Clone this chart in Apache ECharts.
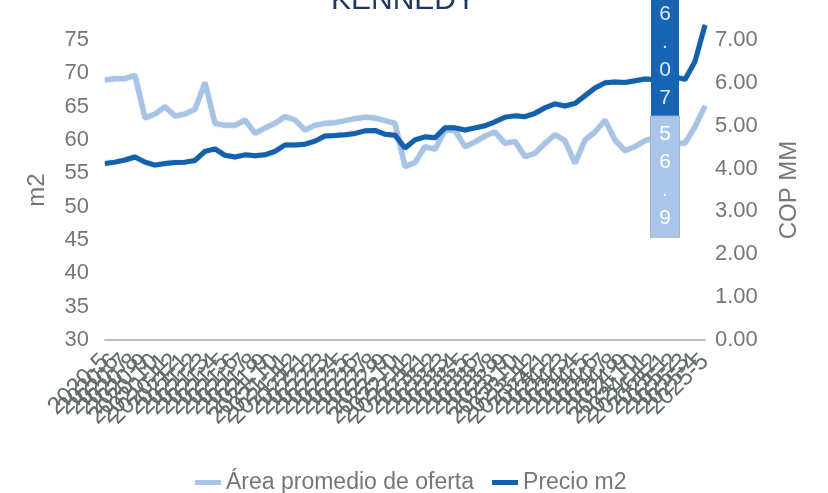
<!DOCTYPE html>
<html>
<head>
<meta charset="utf-8">
<script src="https://cdn.jsdelivr.net/npm/echarts@6/dist/echarts.min.js"></script>
<style>
  html, body { margin: 0; padding: 0; background: #ffffff; }
  #chart { width: 828px; height: 493px; }
</style>
</head>
<body>
<div id="chart"></div>
<script>
// Monthly periods on the category axis
const months = [
  '2020-5','2020-6','2020-7','2020-8','2020-9','2020-10','2020-11','2020-12',
  '2021-1','2021-2','2021-3','2021-4','2021-5','2021-6','2021-7','2021-8','2021-9','2021-10','2021-11','2021-12',
  '2022-1','2022-2','2022-3','2022-4','2022-5','2022-6','2022-7','2022-8','2022-9','2022-10','2022-11','2022-12',
  '2023-1','2023-2','2023-3','2023-4','2023-5','2023-6','2023-7','2023-8','2023-9','2023-10','2023-11','2023-12',
  '2024-1','2024-2','2024-3','2024-4','2024-5','2024-6','2024-7','2024-8','2024-9','2024-10','2024-11','2024-12',
  '2025-1','2025-2','2025-3','2025-4','2025-5'
];

// Average offered area (m2), left axis
const areaOferta = [
  69.0, 69.2, 69.2, 69.7, 63.3, 63.9, 65.0, 63.6, 63.9, 64.6,
  68.6, 62.5, 62.2, 62.2, 63.0, 61.0, 61.8, 62.5, 63.5, 63.0,
  61.5, 62.2, 62.5, 62.6, 62.9, 63.2, 63.4, 63.3, 62.9, 62.5,
  56.0, 56.6, 59.0, 58.6, 61.5, 61.4, 59.0, 59.7, 60.6, 61.2,
  59.5, 59.8, 57.5, 58.0, 59.5, 60.8, 59.9, 56.5, 60.0, 61.2,
  63.0, 60.0, 58.4, 59.0, 59.9, 60.3, 56.9, 59.5, 59.5, 62.0,
  65.1
];

// Price per m2 (COP millions), right axis
const precioM2 = [
  4.12, 4.15, 4.20, 4.27, 4.15, 4.08, 4.12, 4.14, 4.15, 4.19,
  4.40, 4.46, 4.31, 4.27, 4.32, 4.30, 4.32, 4.40, 4.55, 4.55,
  4.57, 4.64, 4.76, 4.77, 4.79, 4.82, 4.88, 4.89, 4.80, 4.78,
  4.48, 4.67, 4.74, 4.72, 4.95, 4.95, 4.90, 4.95, 5.00, 5.09,
  5.20, 5.23, 5.21, 5.29, 5.42, 5.51, 5.46, 5.52, 5.70, 5.88,
  6.00, 6.02, 6.01, 6.05, 6.09, 6.08, 6.07, 6.14, 6.08, 6.50,
  7.35
];

// Axis ranges
const areaAxis = { min: 30, max: 75, interval: 5 };
const precioAxis = { min: 0, max: 7, interval: 1 };

// Point whose values are printed
const labelIndex = 56;

const FONT = '"Liberation Sans", Arial, sans-serif';
const GRAY = '#767676';
const LIGHT = '#a6c3e8';
const DARK = '#1261ae';

// Stack each character of a value on its own line
const stacked = p => String(p.value).split('').join('\n');

function withLabel(values, labelStyle) {
  return values.map((v, i) => i === labelIndex
    ? { value: v, label: Object.assign({ show: true, formatter: stacked }, labelStyle) }
    : v);
}

const chart = echarts.init(document.getElementById('chart'), null, { renderer: 'canvas' });

chart.setOption({
  animation: false,
  backgroundColor: '#ffffff',
  textStyle: { fontFamily: FONT },
  title: {
    text: 'KENNEDY',
    left: 326,
    top: -19,
    textStyle: { fontFamily: FONT, fontSize: 30, fontWeight: 'normal', color: '#1f3763' }
  },
  legend: {
    left: 190,
    top: 466,
    icon: 'rect',
    itemWidth: 26,
    itemHeight: 5,
    itemGap: 18,
    textStyle: { fontFamily: FONT, fontSize: 23, color: GRAY },
    data: ['Área promedio de oferta', 'Precio m2']
  },
  grid: { left: 105, right: 123, top: 40, bottom: 153, containLabel: false },
  xAxis: {
    type: 'category',
    data: months,
    boundaryGap: false,
    axisLine: { lineStyle: { color: '#bfbfbf', width: 2 } },
    axisTick: { show: false },
    axisLabel: {
      interval: 0,
      rotate: 45,
      margin: 18,
      fontFamily: FONT,
      fontSize: 24,
      color: '#636d67',
      hideOverlap: false
    }
  },
  yAxis: [
    {
      type: 'value',
      min: areaAxis.min, max: areaAxis.max, interval: areaAxis.interval,
      name: 'm2',
      nameLocation: 'middle',
      nameGap: 56,
      nameTextStyle: { fontFamily: FONT, fontSize: 24, color: GRAY },
      axisLine: { show: false },
      axisTick: { show: false },
      splitLine: { show: false },
      axisLabel: { margin: 16, fontFamily: FONT, fontSize: 22, color: GRAY }
    },
    {
      type: 'value',
      min: precioAxis.min, max: precioAxis.max, interval: precioAxis.interval,
      name: 'COP MM',
      nameLocation: 'middle',
      nameGap: 72,
      nameRotate: 90,
      nameTextStyle: { fontFamily: FONT, fontSize: 24, color: GRAY },
      axisLine: { show: false },
      axisTick: { show: false },
      splitLine: { show: false },
      axisLabel: {
        margin: 10, fontFamily: FONT, fontSize: 22, color: GRAY,
        formatter: v => v.toFixed(2)
      }
    }
  ],
  series: [
    {
      name: 'Área promedio de oferta',
      type: 'line',
      yAxisIndex: 0,
      data: withLabel(areaOferta, {
        position: 'inside',
        offset: [0, 16],
        backgroundColor: '#a9c6ea',
        borderColor: '#9fb3cf',
        borderWidth: 1,
        color: '#ffffff',
        fontFamily: FONT,
        fontSize: 21,
        lineHeight: 28,
        width: 28,
        align: 'center',
        padding: [4, 0]
      }),
      symbol: 'circle',
      symbolSize: 1,
      showSymbol: true,
      clip: false,
      z: 2,
      itemStyle: { color: LIGHT },
      lineStyle: { color: LIGHT, width: 5, shadowColor: 'rgba(90,100,120,0.45)', shadowBlur: 1.5 },
      emphasis: { disabled: true }
    },
    {
      name: 'Precio m2',
      type: 'line',
      yAxisIndex: 1,
      data: withLabel(precioM2, {
        position: 'inside',
        offset: [0, -24],
        backgroundColor: '#1565b4',
        color: '#dfe8f4',
        fontFamily: FONT,
        fontSize: 21,
        lineHeight: 28,
        width: 28,
        align: 'center',
        padding: [4, 0]
      }),
      symbol: 'circle',
      symbolSize: 1,
      showSymbol: true,
      clip: false,
      z: 3,
      itemStyle: { color: DARK },
      lineStyle: { color: DARK, width: 5, shadowColor: 'rgba(40,60,90,0.35)', shadowBlur: 1.5 },
      emphasis: { disabled: true }
    }
  ]
});
</script>
</body>
</html>
